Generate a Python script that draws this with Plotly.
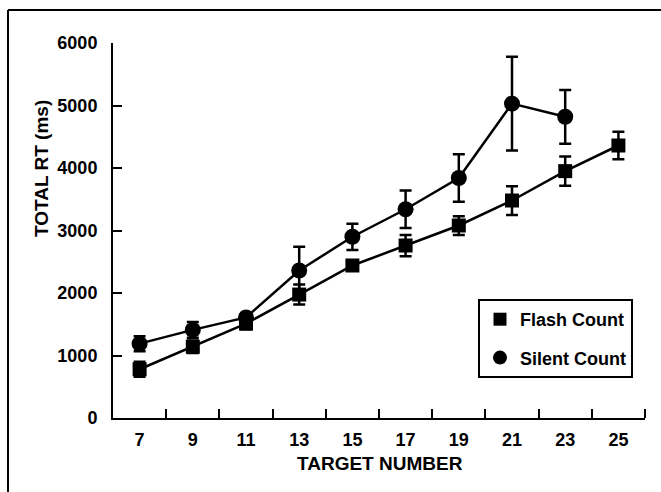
import plotly.graph_objects as go

# Data
target_numbers = [7, 9, 11, 13, 15, 17, 19, 21, 23, 25]
flash_rt = [780, 1140, 1510, 1975, 2440, 2760, 3080, 3480, 3950, 4360]
flash_err = [120, 100, 90, 160, 80, 170, 150, 230, 235, 220]

silent_targets = [7, 9, 11, 13, 15, 17, 19, 21, 23]
silent_rt = [1190, 1410, 1610, 2360, 2900, 3340, 3840, 5030, 4820]
silent_err = [120, 125, 60, 380, 210, 300, 380, 750, 430]

x_tick_labels = [7, 9, 11, 13, 15, 17, 19, 21, 23, 25]
x_minor_ticks = [8, 10, 12, 14, 16, 18, 20, 22, 24, 26]
y_ticks = [0, 1000, 2000, 3000, 4000, 5000, 6000]

FONT = "Liberation Sans, Arial, Helvetica, sans-serif"
BLACK = "#000000"

fig = go.Figure()

fig.add_trace(go.Scatter(
    x=target_numbers, y=flash_rt, mode="lines+markers", name="Flash Count",
    line=dict(color=BLACK, width=2.5),
    marker=dict(symbol="square", size=14, color=BLACK),
    error_y=dict(type="data", array=flash_err, color=BLACK, thickness=2.5, width=6),
    showlegend=False,
))
fig.add_trace(go.Scatter(
    x=silent_targets, y=silent_rt, mode="lines+markers", name="Silent Count",
    line=dict(color=BLACK, width=2.5),
    marker=dict(symbol="circle", size=16, color=BLACK),
    error_y=dict(type="data", array=silent_err, color=BLACK, thickness=2.5, width=6),
    showlegend=False,
))
# legend-only entries (marker only, as in the reference)
fig.add_trace(go.Scatter(x=[None], y=[None], mode="markers", name="Flash Count",
                         marker=dict(symbol="square", size=13, color=BLACK),
                         legendgroup="a"))
fig.add_trace(go.Scatter(x=[None], y=[None], mode="markers", name="Silent Count",
                         marker=dict(symbol="circle", size=14, color=BLACK),
                         legendgroup="b"))

L, R, T, B = 113, 16, 43, 74
W, H = 661, 492
pw = W - L - R
ph = H - T - B

def px_x(px):
    return (px - L) / pw

def px_y(py):
    return (H - B - py) / ph

fig.update_layout(
    width=W, height=H,
    margin=dict(l=L, r=R, t=T, b=B, pad=0),
    paper_bgcolor="white", plot_bgcolor="white",
    font=dict(family=FONT, size=18, color=BLACK),
    xaxis=dict(
        range=[6, 26], showgrid=False, zeroline=False,
        showline=True, linecolor=BLACK, linewidth=2,
        tickmode="array", tickvals=x_tick_labels,
        ticktext=[str(v) for v in x_tick_labels],
        ticks="", ticklabelstandoff=4,
        tickfont=dict(family=FONT, size=18, color=BLACK, weight="bold"),
        minor=dict(tickmode="array", tickvals=x_minor_ticks, ticks="inside",
                   ticklen=9, tickwidth=2, tickcolor=BLACK, showgrid=False),
    ),
    yaxis=dict(
        range=[0, 6000], showgrid=False, zeroline=False,
        showline=True, linecolor=BLACK, linewidth=2,
        tickmode="array", tickvals=y_ticks,
        ticks="inside", ticklen=9, tickwidth=2, tickcolor=BLACK,
        ticklabelstandoff=10,
        tickfont=dict(family=FONT, size=18, color=BLACK, weight="bold"),
    ),
    legend=dict(
        x=px_x(478), y=px_y(299), xanchor="left", yanchor="top",
        bgcolor="white", bordercolor=BLACK, borderwidth=2,
        font=dict(family=FONT, size=18, color=BLACK, weight="bold"),
        tracegroupgap=12, traceorder="grouped", itemwidth=30,
    ),
    showlegend=True,
    annotations=[
        dict(text="TOTAL RT (ms)", x=px_x(41), y=px_y(169), xref="paper", yref="paper",
             showarrow=False, textangle=-90, xanchor="center", yanchor="middle",
             font=dict(family=FONT, size=19, color=BLACK, weight="bold")),
        dict(text="TARGET NUMBER", x=px_x(380), y=px_y(463), xref="paper", yref="paper",
             showarrow=False, xanchor="center", yanchor="middle",
             font=dict(family=FONT, size=19, color=BLACK, weight="bold")),
    ],
    shapes=[
        dict(type="line", xref="paper", yref="paper", x0=px_x(8), x1=px_x(661),
             y0=px_y(10), y1=px_y(10), line=dict(color=BLACK, width=2)),
        dict(type="line", xref="paper", yref="paper", x0=px_x(8), x1=px_x(8),
             y0=px_y(10), y1=px_y(492), line=dict(color=BLACK, width=2)),
    ],
)

fig.write_html(
    "out.html",
    config={"displayModeBar": False},
    post_script="document.body.style.margin='0';document.body.style.overflow='hidden';",
)
